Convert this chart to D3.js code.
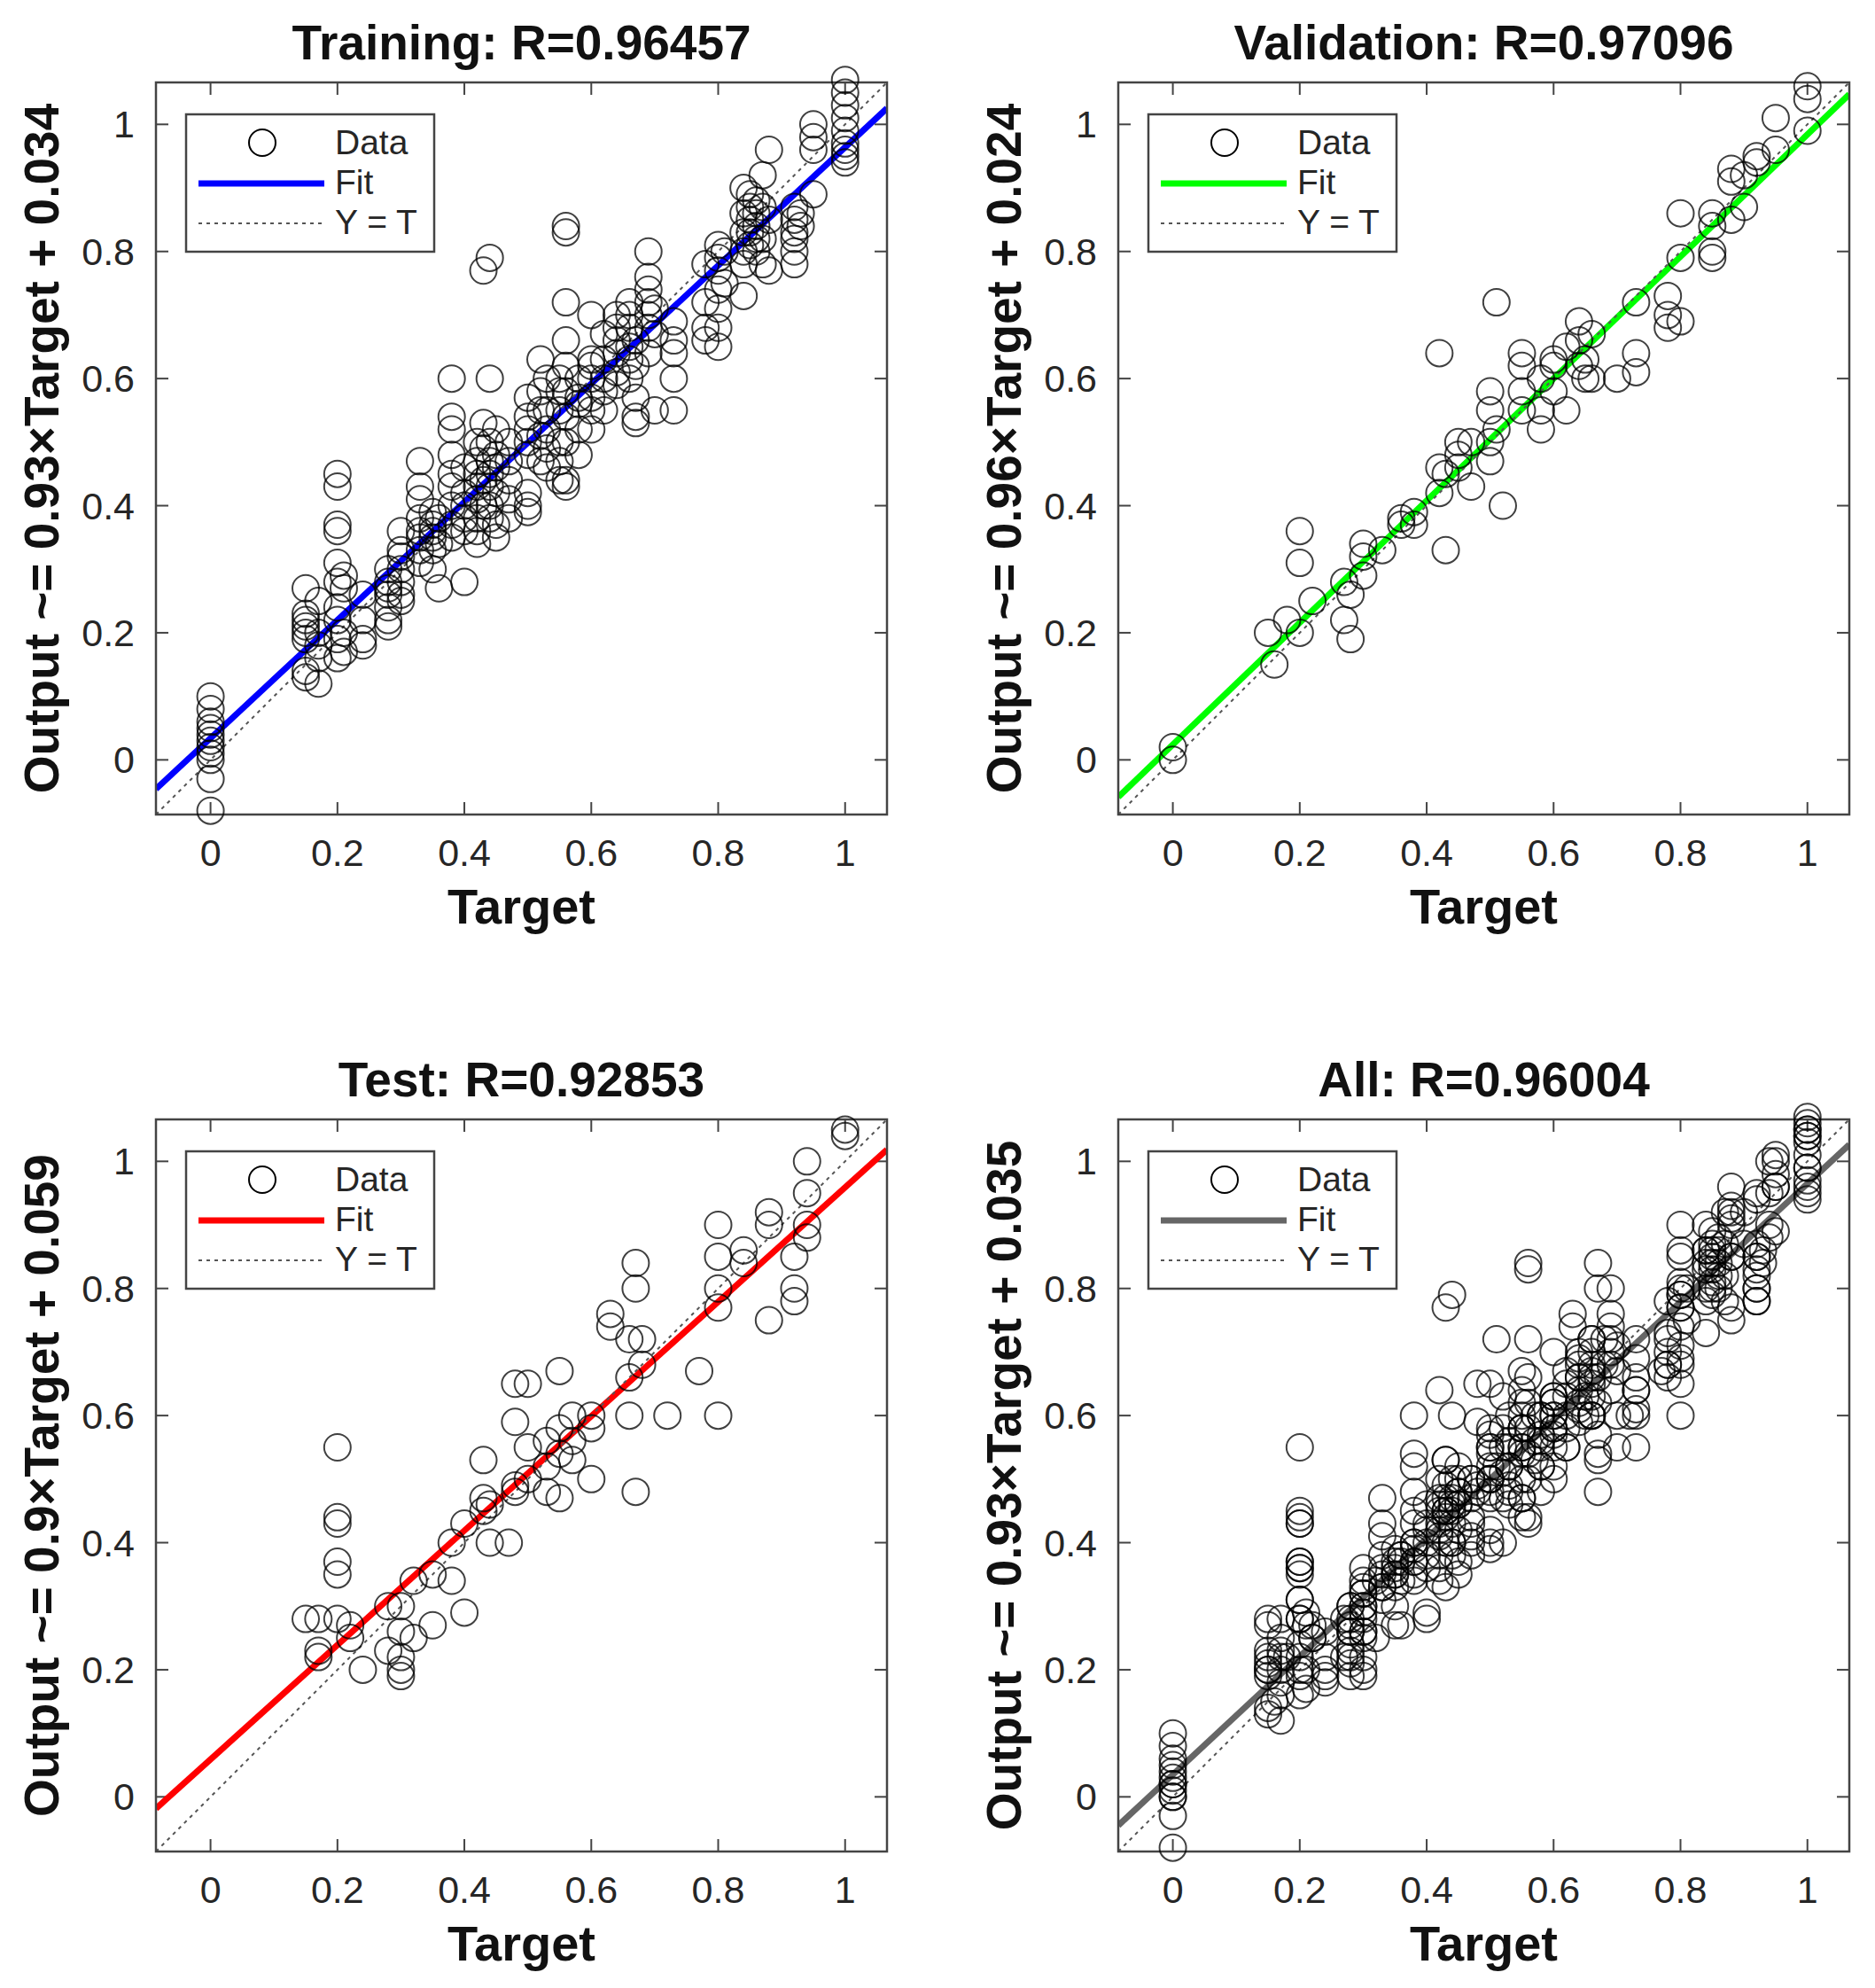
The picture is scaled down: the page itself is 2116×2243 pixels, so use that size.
<!DOCTYPE html>
<html><head><meta charset="utf-8">
<script src="https://cdn.jsdelivr.net/npm/d3@7"></script>
<style>body{margin:0;background:#fff}svg{display:block}</style>
</head><body><svg width="2116" height="2243"></svg>
<script>
// target value -> list of outputs
const trainData = [
	[0, [0.1,0.08,0.06,0.05,0.03,0.02,0.0,-0.03,-0.08,0.04,0.01]],
	[0.15, [0.27,0.22,0.2,0.19,0.14,0.13,0.21,0.23]],
	[0.17, [0.16,0.12,0.2,0.25,0.18]],
	[0.2, [0.45,0.43,0.37,0.36,0.31,0.28,0.22,0.19,0.16,0.24]],
	[0.21, [0.27,0.2,0.29,0.17]],
	[0.24, [0.18,0.19,0.22,0.26]],
	[0.28, [0.3,0.28,0.26,0.24,0.22,0.21,0.27]],
	[0.3, [0.36,0.32,0.3,0.28,0.26,0.25,0.33]],
	[0.33, [0.47,0.43,0.41,0.38,0.36,0.33,0.31,0.35]],
	[0.35, [0.39,0.37,0.35,0.33,0.3,0.36]],
	[0.36, [0.34,0.27,0.38]],
	[0.38, [0.6,0.54,0.52,0.48,0.45,0.4,0.37,0.35,0.43]],
	[0.4, [0.42,0.38,0.36,0.28,0.4,0.46]],
	[0.42, [0.5,0.47,0.45,0.43,0.41,0.38,0.36,0.34]],
	[0.43, [0.77,0.53,0.49,0.44,0.4]],
	[0.44, [0.79,0.6,0.5,0.47,0.45,0.43,0.4,0.38]],
	[0.45, [0.52,0.48,0.46,0.42,0.37,0.35]],
	[0.47, [0.5,0.47,0.44,0.41,0.38]],
	[0.5, [0.57,0.54,0.52,0.5,0.48,0.42,0.4,0.39]],
	[0.52, [0.63,0.58,0.55,0.51,0.47]],
	[0.53, [0.6,0.55,0.52,0.49,0.46]],
	[0.55, [0.58,0.55,0.5,0.47,0.44,0.6]],
	[0.56, [0.84,0.83,0.72,0.66,0.62,0.58,0.54,0.5,0.44,0.43]],
	[0.58, [0.6,0.56,0.52,0.48,0.57]],
	[0.6, [0.7,0.63,0.6,0.57,0.55,0.52,0.62]],
	[0.62, [0.67,0.63,0.6,0.58,0.55]],
	[0.64, [0.7,0.68,0.66,0.64,0.61,0.59]],
	[0.66, [0.72,0.7,0.68,0.65,0.63,0.6]],
	[0.67, [0.66,0.62,0.57,0.54,0.53]],
	[0.69, [0.8,0.76,0.74,0.72,0.7,0.68,0.64]],
	[0.7, [0.55,0.67,0.71]],
	[0.73, [0.69,0.66,0.64,0.6,0.55]],
	[0.78, [0.78,0.72,0.68,0.66]],
	[0.8, [0.81,0.79,0.77,0.74,0.71,0.68,0.65]],
	[0.81, [0.8,0.75]],
	[0.84, [0.9,0.86,0.83,0.8,0.78,0.73]],
	[0.85, [0.89,0.87,0.85,0.83,0.81]],
	[0.86, [0.88,0.86,0.84,0.82,0.8]],
	[0.87, [0.92,0.87,0.82,0.78]],
	[0.88, [0.85,0.96,0.77]],
	[0.92, [0.87,0.85,0.83,0.82,0.8,0.78]],
	[0.93, [0.86,0.84]],
	[0.95, [1.0,0.98,0.96,0.89]],
	[1, [1.07,1.05,1.03,1.01,0.99,0.97,0.96,0.95,0.94]]
];
const valData = [
	[0, [0.02,0.0]], [0.15, [0.2]], [0.16, [0.15]], [0.18, [0.22]],
	[0.2, [0.36,0.31,0.2]], [0.22, [0.25]], [0.27, [0.28,0.22]], [0.28, [0.19,0.26]],
	[0.3, [0.34,0.32,0.29]], [0.33, [0.33]], [0.36, [0.38,0.37]], [0.38, [0.39,0.37]],
	[0.42, [0.64,0.46,0.42]], [0.43, [0.33,0.45]], [0.45, [0.5,0.48,0.46]], [0.47, [0.5,0.43]],
	[0.5, [0.58,0.55,0.5,0.47]], [0.51, [0.72,0.52]], [0.52, [0.4]], [0.55, [0.64,0.62,0.58,0.55]],
	[0.58, [0.6,0.55,0.52]], [0.6, [0.63,0.62,0.58]], [0.62, [0.65,0.55]], [0.64, [0.69,0.66,0.62]],
	[0.65, [0.63,0.6]], [0.66, [0.6,0.67]], [0.7, [0.6]], [0.73, [0.72,0.64,0.61]],
	[0.78, [0.73,0.7,0.68]], [0.8, [0.86,0.69,0.79]], [0.85, [0.86,0.84,0.8,0.79]],
	[0.88, [0.93,0.91,0.85]], [0.9, [0.92,0.87]], [0.92, [0.95,0.94]], [0.95, [1.01,0.96]],
	[1, [1.06,1.04,0.99]]
];
const testData = [
	[0.15, [0.28]], [0.17, [0.28,0.23,0.22]], [0.2, [0.55,0.44,0.43,0.37,0.35,0.28]],
	[0.22, [0.25,0.27]], [0.24, [0.2]], [0.28, [0.3,0.23]], [0.3, [0.3,0.26,0.22,0.2,0.19]],
	[0.32, [0.34,0.25]], [0.35, [0.35,0.27]], [0.38, [0.4,0.34]], [0.4, [0.29,0.43]],
	[0.43, [0.53,0.47,0.45]], [0.44, [0.4,0.46]], [0.47, [0.4]], [0.48, [0.65,0.59,0.49,0.48]],
	[0.5, [0.55,0.5,0.65]], [0.53, [0.56,0.52,0.48]], [0.55, [0.67,0.58,0.54,0.47]],
	[0.57, [0.6,0.56,0.53]], [0.6, [0.6,0.58,0.5]], [0.63, [0.76,0.74]], [0.66, [0.72,0.66,0.6]],
	[0.67, [0.84,0.8,0.48]], [0.68, [0.72,0.68]], [0.72, [0.6]], [0.77, [0.67]],
	[0.8, [0.9,0.85,0.8,0.77,0.6]], [0.84, [0.86,0.84]], [0.88, [0.9,0.92,0.75]],
	[0.92, [0.85,0.8,0.78]], [0.94, [1.0,0.95,0.9,0.88]], [1, [1.05,1.04]]
];
const titles = ['Training: R=0.96457', 'Validation: R=0.97096', 'Test: R=0.92853', 'All: R=0.96004'];
const yLabels = ['Output ~= 0.93\u00d7Target + 0.034', 'Output ~= 0.96\u00d7Target + 0.024',
	'Output ~= 0.9\u00d7Target + 0.059', 'Output ~= 0.93\u00d7Target + 0.035'];
const slopes = [0.93, 0.96, 0.9, 0.93];
const offsets = [0.034, 0.024, 0.059, 0.035];
const fitColors = ['#0000ff', '#00ff00', '#ff0000', '#666666'];
const ticks = [0, 0.2, 0.4, 0.6, 0.8, 1];

const flat = d => d.flatMap(([t, os]) => os.map(o => [t, o]));
const sets = [flat(trainData), flat(valData), flat(testData)];
sets.push([...sets[0], ...sets[1], ...sets[2]]);

const svg = d3.select('svg');
const font = 'Arial, "Liberation Sans", sans-serif';
const boxW = 825, boxH = 826;
const origins = [[176, 93], [1262, 93], [176, 1263], [1262, 1263]];
const dom = [-0.086, 1.066];

sets.forEach((pts, i) => {
	const [ox, oy] = origins[i];
	const g = svg.append('g').attr('transform', `translate(${ox},${oy})`);
	const x = d3.scaleLinear().domain(dom).range([0, boxW]);
	const y = d3.scaleLinear().domain(dom).range([boxH, 0]);

	g.append('defs').append('clipPath').attr('id', 'c' + i)
		.append('rect').attr('width', boxW).attr('height', boxH);

	// ticks inside box on all four sides
	const tl = 14;
	ticks.forEach(t => {
		g.append('line').attr('x1', x(t)).attr('x2', x(t)).attr('y1', boxH).attr('y2', boxH - tl).attr('stroke', '#444').attr('stroke-width', 2);
		g.append('line').attr('x1', x(t)).attr('x2', x(t)).attr('y1', 0).attr('y2', tl).attr('stroke', '#444').attr('stroke-width', 2);
		g.append('line').attr('y1', y(t)).attr('y2', y(t)).attr('x1', 0).attr('x2', tl).attr('stroke', '#444').attr('stroke-width', 2);
		g.append('line').attr('y1', y(t)).attr('y2', y(t)).attr('x1', boxW).attr('x2', boxW - tl).attr('stroke', '#444').attr('stroke-width', 2);
		g.append('text').attr('x', x(t)).attr('y', boxH + 58).attr('text-anchor', 'middle')
			.attr('font-family', font).attr('font-size', 43).attr('fill', '#262626').text(d3.format('~g')(t));
		g.append('text').attr('x', -24).attr('y', y(t) + 15).attr('text-anchor', 'end')
			.attr('font-family', font).attr('font-size', 43).attr('fill', '#262626').text(d3.format('~g')(t));
	});

	const plot = g.append('g').attr('clip-path', `url(#c${i})`);
	const line = d3.line().x(d => x(d)).y(d => y(slopes[i] * d + offsets[i]));
	plot.append('path').attr('d', line(dom)).attr('stroke', fitColors[i]).attr('stroke-width', 7).attr('fill', 'none');
	plot.append('path').attr('d', d3.line().x(d => x(d)).y(d => y(d))(dom))
		.attr('stroke', '#555').attr('stroke-width', 2).attr('stroke-dasharray', '4,5').attr('fill', 'none');

	g.append('rect').attr('width', boxW).attr('height', boxH).attr('fill', 'none').attr('stroke', '#444').attr('stroke-width', 2.5);

	g.append('g').selectAll('circle').data(pts).enter().append('circle')
		.attr('cx', d => x(d[0])).attr('cy', d => y(d[1])).attr('r', 15)
		.attr('fill', 'none').attr('stroke', '#000').attr('stroke-opacity', 0.75).attr('stroke-width', 2);

	// legend
	const lg = g.append('g').attr('transform', 'translate(34,36)');
	lg.append('rect').attr('width', 280).attr('height', 155).attr('fill', '#fff').attr('stroke', '#444').attr('stroke-width', 2.5);
	lg.append('circle').attr('cx', 86).attr('cy', 32).attr('r', 15).attr('fill', 'none').attr('stroke', '#000').attr('stroke-width', 2);
	lg.append('line').attr('x1', 14).attr('x2', 156).attr('y1', 78).attr('y2', 78).attr('stroke', fitColors[i]).attr('stroke-width', 7);
	lg.append('line').attr('x1', 14).attr('x2', 156).attr('y1', 123).attr('y2', 123).attr('stroke', '#555').attr('stroke-width', 2).attr('stroke-dasharray', '4,5');
	[['Data', 45], ['Fit', 90], ['Y = T', 135]].forEach(([t, yy]) => {
		lg.append('text').attr('x', 168).attr('y', yy).attr('font-family', font)
			.attr('font-size', 39).attr('fill', '#262626').text(t);
	});

	g.append('text').attr('x', boxW / 2).attr('y', -26).attr('text-anchor', 'middle')
		.attr('font-family', font).attr('font-size', 55).attr('font-weight', 'bold').attr('fill', '#111').text(titles[i]);
	g.append('text').attr('x', boxW / 2).attr('y', boxH + 123).attr('text-anchor', 'middle')
		.attr('font-family', font).attr('font-size', 56).attr('font-weight', 'bold').attr('fill', '#111').text('Target');
	g.append('text').attr('transform', `translate(-110,${boxH / 2}) rotate(-90)`).attr('text-anchor', 'middle')
		.attr('font-family', font).attr('font-size', 55).attr('font-weight', 'bold').attr('fill', '#111').text(yLabels[i]);
});
</script>
</body></html>
